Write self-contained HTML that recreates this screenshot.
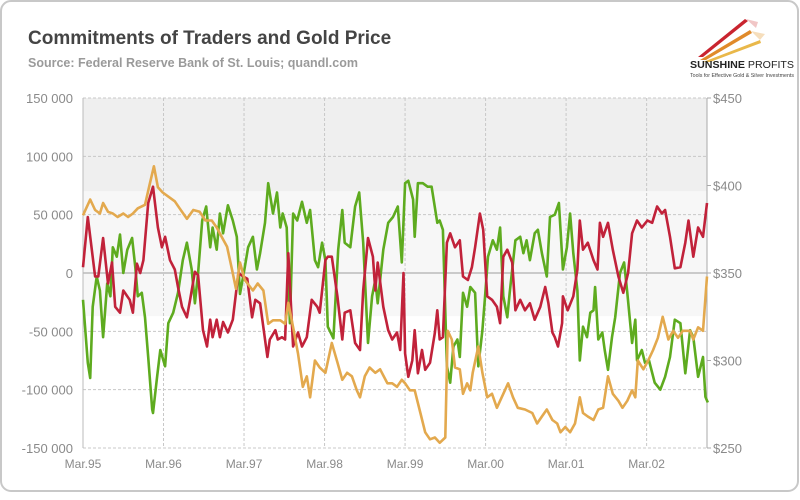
<!DOCTYPE html>
<html><head><meta charset="utf-8"><style>
html,body{margin:0;padding:0;background:#fff;}
body{width:800px;height:495px;overflow:hidden;font-family:"Liberation Sans",sans-serif;}
</style></head><body>
<svg id="chart" width="800" height="495" viewBox="0 0 800 495" xmlns="http://www.w3.org/2000/svg">
<rect x="1" y="1" width="797" height="490" rx="10" fill="#fff" stroke="#c8c8c8" stroke-width="2"/>
<text x="28" y="44" font-size="19" font-weight="bold" fill="#444">Commitments of Traders and Gold Price</text>
<text x="28" y="67" font-size="12.5" font-weight="bold" fill="#9a9a9a">Source: Federal Reserve Bank of St. Louis; quandl.com</text>
<g>
<polygon points="698,57 745,19 748,21 703,57" fill="#c9242f"/>
<polygon points="700,60 750,30 752,33 706,60" fill="#e08a2a"/>
<polygon points="703,62 760,40 761,43 710,62" fill="#e9b84a"/>
<polygon points="746,19 758,22 756,28" fill="#e8a0a0" opacity="0.6"/>
<polygon points="751,31 765,34 760,40" fill="#f0c890" opacity="0.6"/>
<text x="690" y="68" font-size="10.5" font-weight="bold" fill="#222" textLength="104" lengthAdjust="spacingAndGlyphs">SUNSHINE <tspan font-weight="normal">PROFITS</tspan></text>
<text x="690" y="77" font-size="5" fill="#444" textLength="104" lengthAdjust="spacingAndGlyphs">Tools for Effective Gold &amp; Silver Investments</text>
</g>
<g id="plot"></g>
</svg>
<script>
const yearLabels = ["Mar.95","Mar.96","Mar.97","Mar.98","Mar.99","Mar.00","Mar.01","Mar.02"];
const leftTicks = [150,100,50,0,-50,-100,-150];
const rightTicks = [450,400,350,300,250];
const redT = [0,.06,.15,.19,.25,.31,.36,.40,.46,.50,.58,.62,.67,.71,.75,.81,.87,.93,.98,1.02,1.08,1.14,1.18,1.23,1.29,1.33,1.39,1.43,1.49,1.54,1.58,1.61,1.66,1.70,1.74,1.80,1.86,1.93,1.99,2.04,2.10,2.14,2.20,2.29,2.32,2.39,2.42,2.47,2.51,2.55,2.61,2.67,2.72,2.78,2.84,2.91,2.94,3.01,3.04,3.09,3.16,3.22,3.25,3.32,3.38,3.44,3.48,3.54,3.60,3.63,3.66,3.73,3.79,3.84,3.90,3.94,3.98,4.00,4.04,4.09,4.12,4.16,4.21,4.25,4.31,4.37,4.40,4.43,4.47,4.52,4.56,4.62,4.68,4.72,4.78,4.83,4.87,4.93,4.97,5.02,5.08,5.14,5.18,5.22,5.27,5.33,5.37,5.43,5.49,5.55,5.61,5.68,5.74,5.78,5.83,5.86,5.90,5.95,5.96,6.02,6.09,6.14,6.17,6.21,6.27,6.34,6.39,6.42,6.46,6.52,6.58,6.65,6.71,6.77,6.82,6.88,6.94,7.01,7.07,7.13,7.19,7.23,7.29,7.35,7.42,7.48,7.52,7.58,7.64,7.70,7.75];
const redV = [5,48,-3,-3,30,-9,9,-29,-34,-15,-23,-34,8,0,11,60,74,39,22,31,11,3,-12,-29,-38,-23,1,-2,-49,-63,-40,-55,-40,-55,-42,-51,-40,0,-3,-5,-38,-23,-26,-72,-57,-49,-57,-55,-57,17,-63,-51,-63,-55,-23,-29,-34,11,14,14,-20,-57,-34,-32,-60,-66,-15,30,14,-15,9,-29,-49,-57,-51,-66,0,-69,-89,-75,-49,-86,-66,-83,-77,-51,-32,-57,-55,26,34,22,28,-3,-6,5,22,51,37,-20,-23,-29,-43,14,20,9,-32,-23,-32,-26,-40,-29,-12,-26,-51,-55,-63,-43,-20,-32,-20,3,45,20,26,11,3,43,31,43,20,-3,-17,0,34,45,39,45,43,57,51,54,31,4,5,26,45,14,39,31,60];
const greenT = [0,.06,.09,.12,.17,.21,.25,.30,.34,.37,.42,.46,.50,.55,.61,.65,.68,.73,.77,.81,.86,.87,.92,.96,1.02,1.06,1.12,1.18,1.24,1.29,1.35,1.39,1.43,1.48,1.53,1.58,1.61,1.66,1.70,1.74,1.80,1.86,1.91,1.95,2.01,2.05,2.11,2.16,2.20,2.26,2.30,2.36,2.41,2.45,2.48,2.53,2.57,2.61,2.66,2.72,2.78,2.82,2.88,2.92,2.97,3.01,3.04,3.11,3.17,3.22,3.25,3.32,3.38,3.43,3.48,3.54,3.59,3.63,3.66,3.73,3.79,3.85,3.91,3.96,4.00,4.04,4.10,4.12,4.16,4.22,4.28,4.33,4.40,4.43,4.47,4.52,4.56,4.60,4.65,4.68,4.72,4.77,4.81,4.87,4.91,4.96,4.99,5.03,5.09,5.14,5.18,5.22,5.27,5.30,5.37,5.43,5.47,5.51,5.55,5.61,5.65,5.70,5.76,5.80,5.86,5.91,5.96,6.01,6.05,6.09,6.14,6.17,6.21,6.26,6.30,6.34,6.36,6.40,6.45,6.48,6.52,6.57,6.61,6.67,6.72,6.76,6.82,6.86,6.88,6.94,6.98,7.03,7.10,7.17,7.23,7.29,7.35,7.42,7.48,7.54,7.58,7.64,7.70,7.73,7.76];
const greenV = [-23,-77,-90,-29,-3,-15,-55,-9,-20,22,14,33,0,20,30,5,-20,-17,-38,-72,-117,-120,-89,-66,-80,-43,-34,-17,11,26,3,-26,0,45,57,22,39,20,51,34,58,45,31,-18,5,22,31,3,17,43,77,51,69,39,51,39,-43,51,45,61,43,54,11,5,26,11,-46,-56,20,54,26,22,57,69,26,-60,-20,-6,-26,20,43,48,57,9,77,79,63,31,77,77,74,74,43,45,37,-80,-94,-63,-57,-72,-17,-29,-12,-17,-80,-49,-23,14,28,20,39,-20,-38,-17,28,31,17,28,11,34,37,17,-3,48,50,60,3,22,51,17,-15,-75,-46,-55,-34,-32,-12,-57,-51,-66,-83,-55,-38,0,9,-17,-60,-40,-75,-66,-77,-75,-94,-100,-89,-72,-40,-43,-86,-49,-55,-89,-72,-106,-111];
const goldT = [0,.09,.15,.21,.25,.31,.37,.43,.50,.56,.62,.68,.77,.83,.88,.93,.99,1.08,1.14,1.20,1.29,1.37,1.45,1.52,1.60,1.66,1.73,1.79,1.85,1.90,1.95,2.01,2.11,2.17,2.24,2.30,2.36,2.45,2.51,2.55,2.61,2.67,2.73,2.78,2.82,2.88,2.94,3.01,3.09,3.16,3.22,3.28,3.34,3.40,3.44,3.50,3.56,3.63,3.69,3.78,3.84,3.90,3.96,4.00,4.06,4.12,4.19,4.25,4.31,4.37,4.43,4.50,4.53,4.58,4.62,4.68,4.72,4.77,4.81,4.84,4.91,4.96,5.02,5.08,5.14,5.22,5.28,5.34,5.40,5.49,5.58,5.64,5.70,5.76,5.83,5.89,5.93,5.99,6.05,6.11,6.17,6.21,6.27,6.34,6.40,6.46,6.52,6.58,6.65,6.70,6.76,6.82,6.86,6.89,6.96,7.02,7.08,7.14,7.20,7.27,7.33,7.39,7.45,7.54,7.58,7.64,7.70,7.75];
const goldV = [383,392,386,384,390,385,384,382,384,382,384,387,389,401,411,399,396,393,391,387,381,386,385,380,380,376,370,365,352,341,356,346,340,344,340,321,323,323,321,333,319,304,285,291,279,300,296,293,310,299,289,293,291,283,279,291,296,293,295,287,287,285,289,287,283,283,270,259,255,256,253,256,317,312,296,295,281,287,283,293,308,293,279,281,273,281,287,279,273,272,270,264,268,272,266,264,259,262,259,264,279,270,268,266,272,273,291,281,277,273,277,283,279,300,295,300,306,313,325,312,317,313,317,317,312,319,317,348];

const X0=83, X1=707, YT=98, YB=448;
const xS = t => X0 + t*(X1-X0)/7.75;
const yL = v => 273 - v*(YB-YT)/300;
const yR = p => 273 - (p-350)*(YB-YT)/200;
const NS="http://www.w3.org/2000/svg";
const plot=document.getElementById('plot');
function mk(tag, attrs){const e=document.createElementNS(NS,tag);for(const k in attrs)e.setAttribute(k,attrs[k]);plot.appendChild(e);return e;}

let b=mk('rect',{x:X0,y:YT,width:X1-X0,height:yL(70)-YT,fill:'#efefef'});


b=mk('rect',{x:X0,y:yL(70),width:X1-X0,height:yL(-37)-yL(70),fill:'#f7f7f7'});



leftTicks.forEach(v=>{
  const g=mk('line',{x1:X0,x2:X1,y1:yL(v),y2:yL(v),stroke:v===0?'#bbb':'#c8c8c8','stroke-width':v===0?1.5:1,'stroke-dasharray':v===0?'':'3,2'});
  
  
  const t=mk('text',{x:X0-10,y:yL(v)+5,'text-anchor':'end','font-size':13,fill:'#8a8a8a'});
  t.textContent=v===0?'0':(v<0?'-':'')+Math.abs(v)+' 000';
  
  
});
yearLabels.forEach((lab,i)=>{
  if(i>0){const g=mk('line',{x1:xS(i),x2:xS(i),y1:YT,y2:YB,stroke:'#c8c8c8','stroke-dasharray':'3,2'});
  
  }
  const t=mk('text',{x:xS(i),y:468,'text-anchor':'middle','font-size':12,fill:'#8a8a8a'});
  t.textContent=lab;
  
  
});
rightTicks.forEach(p=>{
  const t=mk('text',{x:X1+6,y:yR(p)+5,'font-size':13,fill:'#8a8a8a'});
  t.textContent='$'+p;
  
  
  const k=mk('line',{x1:X1,x2:X1+4,y1:yR(p),y2:yR(p),stroke:'#aaa'});
  
  
});
let a=mk('line',{x1:X0,x2:X0,y1:YT,y2:YB,stroke:'#bbb'});


a=mk('line',{x1:X1,x2:X1,y1:YT,y2:YB,stroke:'#aaa'});



function series(T,V,yf,color,name){
  const d=T.map((t,i)=>(i?'L':'M')+xS(t).toFixed(1)+','+yf(V[i]).toFixed(1)).join('');
  const p=mk('path',{d:d,fill:'none',stroke:color,'stroke-width':2.6,'stroke-linejoin':'round'});
  
  
}
series(greenT,greenV,yL,'#5eab1f','green-series-line');
series(redT,redV,yL,'#c1223a','red-series-line');
series(goldT,goldV,yR,'#e3a94e','gold-price-line');
</script>
</body></html>
